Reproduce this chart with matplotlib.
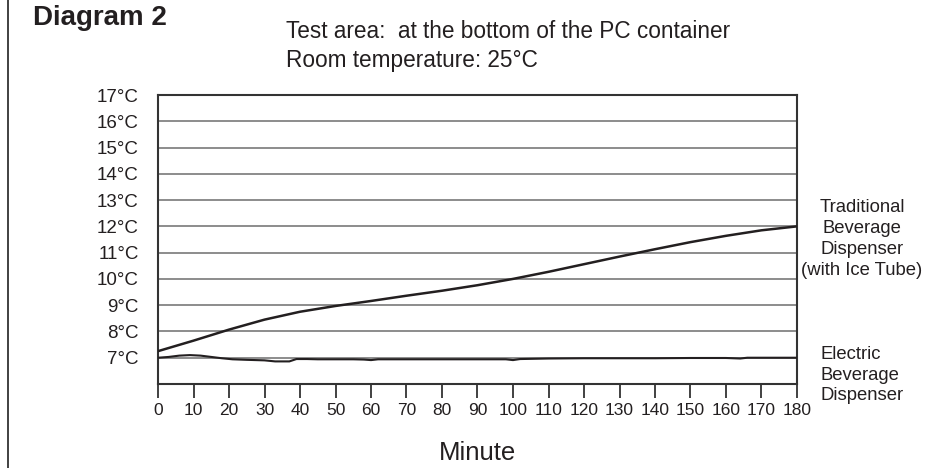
import matplotlib.pyplot as plt
import matplotlib.lines as mlines

plt.rcParams['font.family'] = ['Liberation Sans', 'DejaVu Sans']

ink = '#231f20'

# Traditional beverage dispenser (with ice tube)
trad_min = [0, 10, 20, 30, 40, 50, 60, 70, 80, 90, 100, 110, 120, 130, 140, 150, 160, 170, 180]
trad_temp = [7.25, 7.65, 8.07, 8.45, 8.75, 8.97, 9.16, 9.36, 9.55, 9.76, 10.0, 10.27,
             10.56, 10.85, 11.13, 11.4, 11.64, 11.85, 12.0]

# Electric beverage dispenser
elec_min = [0, 3, 6, 9, 12, 15, 18, 21, 25, 30, 33, 37, 39, 42, 45, 50, 55, 58, 60, 62,
            65, 70, 80, 90, 98, 100, 102, 110, 120, 130, 140, 150, 160, 164, 166, 168, 180]
elec_temp = [7.0, 7.03, 7.08, 7.1, 7.08, 7.03, 6.98, 6.94, 6.92, 6.9, 6.86, 6.86, 6.95,
             6.95, 6.94, 6.94, 6.94, 6.93, 6.91, 6.94, 6.94, 6.94, 6.94, 6.94, 6.94, 6.91,
             6.95, 6.97, 6.98, 6.98, 6.98, 6.99, 6.99, 6.97, 7.0, 7.0, 7.0]

y_ticks = list(range(7, 18))
y_labels = ['%d°C' % t for t in y_ticks]
x_ticks = list(range(0, 181, 10))

fig = plt.figure(figsize=(9.42, 4.68), dpi=100)
ax = fig.add_axes([158 / 942, 1 - 384 / 468, (797 - 158) / 942, (384 - 95) / 468])

for t in y_ticks:
    ax.axhline(t, color='#6e6e6e', lw=1.1, zorder=1)

ax.plot(trad_min, trad_temp, color=ink, lw=1.8, zorder=3)
ax.plot(elec_min, elec_temp, color=ink, lw=1.5, zorder=3)

ax.set_xlim(0, 180)
ax.set_ylim(6, 17)
ax.set_xticks(x_ticks)
ax.set_yticks(y_ticks)
ax.set_yticklabels(y_labels, fontsize=13.5, color=ink)
ax.tick_params(axis='x', length=10, width=1.3, color='#333333', labelsize=12.5,
               labelcolor=ink, pad=4)
ax.tick_params(axis='y', length=0, pad=14)
for side in ['left', 'bottom', 'right', 'top']:
    ax.spines[side].set_color('#333333')
    ax.spines[side].set_linewidth(1.5)

ax.set_xlabel('Minute', fontsize=18.5, color=ink, labelpad=16)

fig.text(33 / 942, 1 - 18 / 468, 'Diagram 2', fontsize=20, fontweight='bold',
         color=ink, va='center', ha='left')
fig.text(286 / 942, 1 - 32 / 468, 'Test area:  at the bottom of the PC container',
         fontsize=16.3, color=ink, va='center', ha='left')
fig.text(286 / 942, 1 - 60 / 468, 'Room temperature: 25°C',
         fontsize=16.3, color=ink, va='center', ha='left')

fig.text(862 / 942, 1 - 239 / 468, 'Traditional\nBeverage\nDispenser\n(with Ice Tube)',
         fontsize=13.3, color=ink, va='center', ha='center', linespacing=1.33)
fig.text(820 / 942, 1 - 375 / 468, 'Electric\nBeverage\nDispenser',
         fontsize=13.3, color=ink, va='center', ha='left', linespacing=1.28)

fig.add_artist(mlines.Line2D([8 / 942, 8 / 942], [0, 1], color='#333333', lw=1.3,
                             transform=fig.transFigure))

fig.savefig('out.png', dpi=100)
